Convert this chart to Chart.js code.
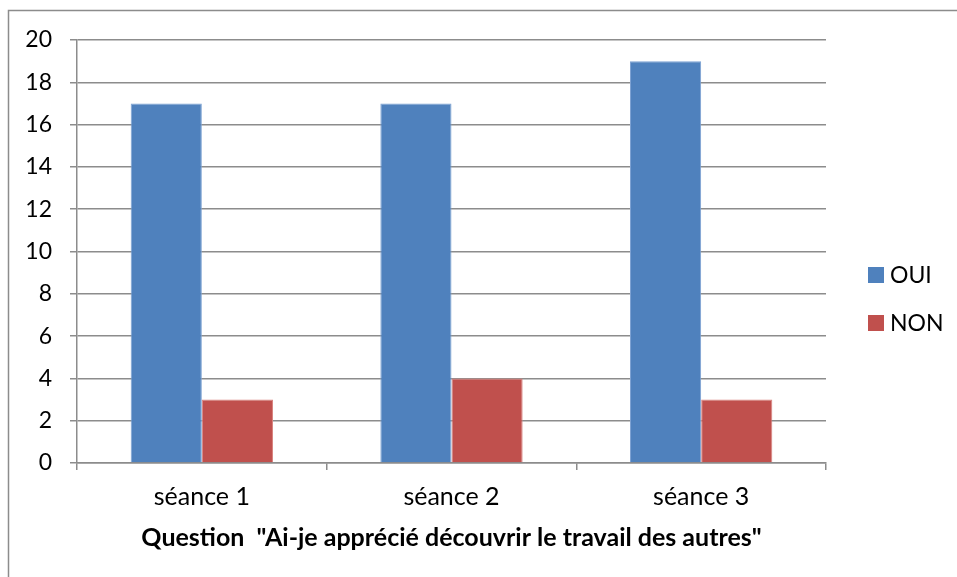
<!DOCTYPE html>
<html>
<head>
<meta charset="utf-8">
<script src="https://cdn.jsdelivr.net/npm/chart.js@4"></script>
<style>
  html, body { margin: 0; padding: 0; background: #fff; }
  #wrap { width: 957px; height: 577px; }
</style>
</head>
<body>
<div id="wrap"><canvas id="chart" width="957" height="577"></canvas></div>
<script>
const categories = ['séance 1', 'séance 2', 'séance 3'];
const ouiValues = [17, 17, 19];
const nonValues = [3, 4, 3];
const seriesNames = ['OUI', 'NON'];
const axisTitle = 'Question  "Ai-je apprécié découvrir le travail des autres"';

const FONT = 'Lato, "Open Sans", sans-serif';
const GRID = '#8c8c8c';

// outer frame of the chart object (left + top edge visible)
const framePlugin = {
  id: 'frame',
  beforeDraw(chart) {
    const { ctx } = chart;
    ctx.save();
    ctx.strokeStyle = '#8c8c8c';
    ctx.lineWidth = 1.5;
    ctx.beginPath();
    ctx.moveTo(8.5, chart.height);
    ctx.lineTo(8.5, 10.5);
    ctx.lineTo(chart.width, 10.5);
    ctx.stroke();
    ctx.restore();
  }
};

// legend on the right, Excel style
const sideLegend = {
  id: 'sideLegend',
  afterDraw(chart) {
    const { ctx } = chart;
    const x = chart.chartArea.right + 42;
    let y = 275;
    ctx.save();
    ctx.font = '23px ' + FONT;
    ctx.textBaseline = 'middle';
    chart.data.datasets.forEach(ds => {
      ctx.fillStyle = ds.backgroundColor;
      ctx.fillRect(x, y - 8, 16, 16);
      ctx.fillStyle = '#000';
      ctx.fillText(ds.label, x + 22, y + 1);
      y += 48;
    });
    ctx.restore();
  }
};

new Chart(document.getElementById('chart'), {
  type: 'bar',
  data: {
    labels: categories,
    datasets: [
      { label: seriesNames[0], data: ouiValues, backgroundColor: '#4F81BD', borderColor: '#7da2d3', borderWidth: 1 },
      { label: seriesNames[1], data: nonValues, backgroundColor: '#C0504D', borderColor: '#d9837f', borderWidth: 1 }
    ]
  },
  options: {
    responsive: false,
    animation: false,
    layout: { padding: { top: 40, right: 131, left: 0, bottom: 0 } },
    datasets: { bar: { categoryPercentage: 0.57, barPercentage: 1 } },
    plugins: {
      legend: { display: false },
      tooltip: { enabled: false }
    },
    scales: {
      x: {
        offset: true,
        grid: { offset: true, drawOnChartArea: false, drawTicks: true, tickLength: 7, color: GRID, lineWidth: 1.5 },
        border: { display: true, color: GRID, width: 1.5 },
        ticks: { color: '#000', font: { family: FONT, size: 25 }, padding: 12 },
        title: {
          display: true,
          text: axisTitle,
          color: '#000',
          font: { family: FONT, size: 25, weight: 'bold' },
          padding: { top: 0, bottom: 24 }
        },
        afterFit(scale) { scale.height = 114; }
      },
      y: {
        min: 0,
        max: 20,
        ticks: { stepSize: 2, color: '#000', font: { family: FONT, size: 23 }, padding: 18 },
        grid: { color: GRID, lineWidth: 1.5, tickLength: 7 },
        border: { display: true, color: GRID, width: 1.5 },
        afterFit(scale) { scale.width = 77; }
      }
    }
  },
  plugins: [framePlugin, sideLegend]
});
</script>
</body>
</html>
